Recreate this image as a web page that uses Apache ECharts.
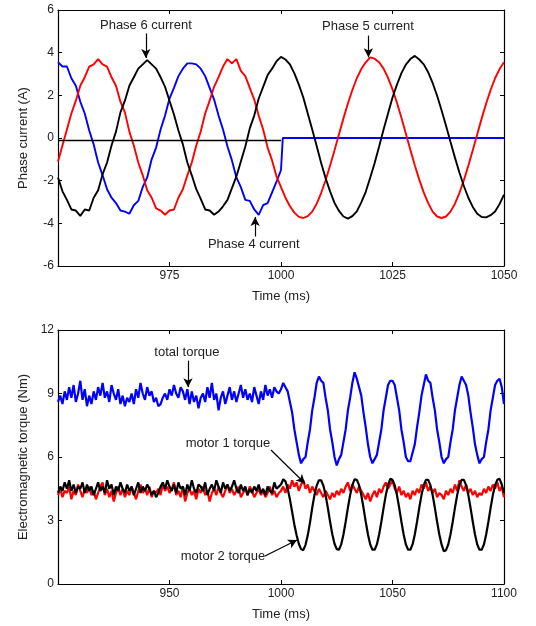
<!DOCTYPE html>
<html>
<head>
<meta charset="utf-8">
<script src="https://cdn.jsdelivr.net/npm/echarts@6/dist/echarts.min.js"></script>
<style>
html,body{margin:0;padding:0;background:#fff}
#main{width:536px;height:626px}
</style>
</head>
<body>
<div id="main"></div>
<script>
var FONT = 'Liberation Sans, Arial, sans-serif';
var TXT = '#222';

// sampling grid (1 ms)
var timeTop = [];
for (var t = 950; t <= 1050; t++) timeTop.push(t);
var timeBot = [];
for (var t2 = 900; t2 <= 1100; t2++) timeBot.push(t2);

// phase currents (A), 950..1050 ms
var phase6 = [
  -1.85,-2.5,-2.9,-3.35,-3.4,-3.65,-3.35,-3.4,-2.8,-2.45,
  -1.7,-1.15,-0.35,0.3,1.2,1.75,2.45,2.85,3.25,3.45,
  3.65,3.45,3.25,2.85,2.4,1.75,1.1,0.35,-0.3,-1.15,
  -1.75,-2.4,-2.85,-3.35,-3.4,-3.6,-3.45,-3.2,-2.9,-2.35,
  -1.8,-1.1,-0.4,0.45,1.05,1.85,2.4,2.95,3.25,3.6,
  3.8,3.68,3.45,3.03,2.5,1.9,1.15,0.4,-0.38,-1.17,
  -1.88,-2.5,-3.04,-3.42,-3.68,-3.78,-3.66,-3.44,-3.02,-2.52,
  -1.86,-1.17,-0.4,0.4,1.15,1.9,2.5,3.04,3.44,3.7,
  3.85,3.68,3.45,3.08,2.58,1.98,1.3,0.57,-0.18,-0.92,
  -1.62,-2.25,-2.8,-3.23,-3.55,-3.7,-3.72,-3.62,-3.45,-3.1,
  -2.65
];
var phase5 = [
  -1.1,-0.35,0.4,1.15,1.75,2.45,2.85,3.35,3.45,3.7,
  3.45,3.35,2.85,2.45,1.7,1.2,0.3,-0.35,-1.15,-1.75,
  -2.45,-2.8,-3.3,-3.4,-3.6,-3.4,-3.35,-2.8,-2.4,-1.75,
  -1.15,-0.35,0.3,1.15,1.75,2.4,2.85,3.35,3.7,3.5,
  3.7,3.15,2.9,2.35,1.8,1.05,0.4,-0.45,-1.05,-1.8,
  -2.3,-2.8,-3.2,-3.5,-3.7,-3.75,-3.66,-3.45,-3.08,-2.58,
  -1.98,-1.3,-0.57,0.18,0.92,1.62,2.25,2.8,3.23,3.55,
  3.78,3.72,3.55,3.25,2.82,2.28,1.65,0.95,0.2,-0.55,
  -1.28,-1.95,-2.55,-3.05,-3.45,-3.68,-3.75,-3.68,-3.45,-3.08,
  -2.58,-1.98,-1.3,-0.57,0.18,0.92,1.62,2.25,2.8,3.23,
  3.55
];
var phase4Time = timeTop.slice(0, 51).concat([1000.4, 1050]);
var phase4 = [
  3.55,3.35,3.35,2.8,2.45,1.7,1.15,0.35,-0.3,-1.15,
  -1.75,-2.4,-2.8,-3.05,-3.4,-3.45,-3.55,-3.15,-2.95,-2.3,
  -1.85,-1.0,-0.45,0.4,1.05,1.85,2.35,2.9,3.25,3.5,
  3.5,3.45,3.25,2.9,2.35,1.8,1.05,0.4,-0.4,-1.05,
  -1.85,-2.3,-2.9,-2.95,-3.35,-3.6,-3.15,-3.05,-2.55,-2.05,
  -1.5,0,0
];
var flatTime = [950, 1000];
var flatVal = [-0.12, -0.12];

// electromagnetic torque (Nm), 900..1100 ms
var totalTorque = [
  8.6,8.9,8.5,9.1,8.7,9.3,8.8,9.4,8.6,9.0,
  9.6,8.7,9.2,8.4,8.9,8.5,9.1,8.7,9.3,8.9,
  9.5,8.8,9.1,8.6,9.4,9.0,8.7,9.2,8.5,8.9,
  8.4,8.8,8.6,9.0,8.5,9.2,8.8,9.5,9.0,8.7,
  9.3,8.9,9.1,8.6,8.8,8.4,8.5,8.8,9.0,8.7,
  9.2,8.9,9.4,9.0,8.8,9.3,9.1,8.7,9.2,8.5,
  9.1,8.6,8.9,8.3,8.8,9.0,8.6,9.3,8.8,9.5,
  8.7,9.0,8.2,8.8,9.1,8.5,8.9,9.3,8.7,9.1,
  8.6,9.0,9.4,8.8,9.2,8.7,9.0,8.6,9.3,8.9,
  8.5,9.1,8.7,9.4,8.9,9.2,8.8,9.3,9.1,9.0,
  9.2,9.5,9.3,9.1,8.6,8.1,7.3,6.7,6.1,5.7,
  5.9,6.0,6.7,7.3,8.2,8.8,9.5,9.8,9.6,9.5,
  8.8,8.2,7.3,6.7,6.0,5.6,5.9,6.1,6.7,7.3,
  8.2,8.8,9.5,10.0,9.7,9.3,8.9,8.1,7.4,6.6,
  6.0,5.7,5.9,6.1,6.7,7.3,8.2,8.8,9.4,9.6,
  9.6,9.4,8.8,8.2,7.3,6.7,6.0,5.8,5.8,6.2,
  6.6,7.4,8.1,8.9,9.4,9.9,9.6,9.5,8.8,8.2,
  7.3,6.7,6.0,5.7,5.9,6.0,6.7,7.3,8.2,8.8,
  9.4,9.8,9.6,9.4,8.9,8.1,7.4,6.6,6.1,5.7,
  5.9,6.0,6.7,7.3,8.2,8.8,9.4,9.6,9.7,9.3,
  8.5
];
var motor1Torque = [
  4.2,4.5,4.1,4.4,4.3,4.6,4.0,4.4,4.2,4.7,
  4.4,4.1,4.5,4.3,4.6,4.2,4.4,4.0,4.3,4.6,
  4.8,4.2,4.5,4.1,4.4,3.9,4.3,4.6,4.2,4.5,
  4.1,4.4,4.2,4.6,4.3,4.0,4.4,4.7,4.3,4.5,
  4.2,4.6,4.1,4.4,4.3,4.5,4.2,4.7,4.4,4.6,
  4.3,4.5,4.8,4.2,4.4,4.1,4.6,3.9,4.3,4.5,
  4.2,4.4,4.0,4.5,4.3,4.6,4.2,4.4,3.9,4.3,
  4.5,4.2,4.6,4.3,4.1,4.4,4.7,4.3,4.5,4.2,
  4.4,4.6,4.1,4.3,4.5,4.2,4.6,4.4,4.1,4.3,
  4.5,4.2,4.4,4.1,4.3,4.6,4.2,4.4,4.1,4.3,
  4.4,4.6,4.3,4.7,4.5,4.9,4.6,4.8,4.4,4.7,
  4.9,4.5,4.7,4.3,4.6,4.4,4.2,4.5,4.3,4.1,
  4.4,4.2,4.0,4.3,4.1,4.4,4.2,4.5,4.3,4.6,
  4.8,4.4,4.7,4.5,4.3,4.6,4.4,4.2,4.0,4.3,
  3.9,4.2,4.4,4.1,4.5,4.3,4.6,4.8,4.5,4.7,
  4.9,4.5,4.3,4.6,4.2,4.4,4.1,4.3,4.0,4.4,
  4.2,4.5,4.3,4.7,4.5,4.8,4.4,4.6,4.3,4.5,
  4.1,4.3,4.2,4.0,4.4,4.2,4.5,4.3,4.7,4.4,
  4.9,4.6,4.4,4.7,4.3,4.5,4.2,4.4,4.1,4.3,
  4.2,4.5,4.3,4.6,4.4,4.7,4.5,4.8,4.4,4.6,
  4.1
];
var motor2Torque = [
  4.3,4.6,4.4,4.8,4.5,4.9,4.4,4.7,4.3,4.6,
  4.5,4.8,4.3,4.7,4.4,4.6,4.2,4.5,4.8,4.4,
  4.6,4.3,4.9,4.5,4.7,4.2,4.6,4.4,4.8,4.5,
  4.3,4.7,4.4,4.6,4.2,4.5,4.8,4.3,4.6,4.4,
  4.7,4.5,4.2,4.4,4.1,4.3,4.6,4.8,4.5,4.9,
  4.6,4.4,4.7,4.3,4.8,4.5,4.6,4.2,4.7,4.4,
  4.9,4.5,4.3,4.7,4.6,4.4,4.8,4.2,4.5,4.7,
  4.4,4.9,4.6,4.3,4.8,4.5,4.7,4.4,4.6,4.9,
  4.5,4.3,4.7,4.4,4.6,4.2,4.5,4.3,4.6,4.4,
  4.7,4.3,4.5,4.2,4.6,4.4,4.3,4.8,4.5,4.6,
  4.7,4.95,4.85,4.5,4.0,3.4,2.8,2.3,1.9,1.65,
  1.6,1.85,2.3,2.9,3.6,4.2,4.65,4.9,4.9,4.65,
  4.2,3.6,2.95,2.35,1.9,1.65,1.62,1.87,2.34,2.94,
  3.6,4.2,4.67,4.95,4.92,4.67,4.2,3.6,2.94,2.34,
  1.87,1.62,1.62,1.87,2.34,2.94,3.6,4.2,4.67,4.97,
  4.92,4.67,4.2,3.6,2.94,2.34,1.87,1.62,1.62,1.87,
  2.34,2.94,3.6,4.2,4.67,4.92,4.92,4.67,4.2,3.6,
  2.94,2.34,1.87,1.55,1.6,1.87,2.34,2.94,3.6,4.2,
  4.67,4.92,4.92,4.67,4.2,3.6,2.94,2.34,1.87,1.62,
  1.62,1.87,2.34,2.94,3.6,4.2,4.67,4.92,4.97,4.7,
  4.3
];

// annotations: [grid, text, textX, textY, arrowX1, arrowY1, arrowX2, arrowY2]
var notes = [
  [0, 'Phase 6 current', 969.7, 5.3, 969.7, 4.9, 969.7, 3.75],
  [0, 'Phase 5 current', 1019.5, 5.25, 1019.6, 4.8, 1019.6, 3.78],
  [0, 'Phase 4 current', 993.9, -5.0, 994.2, -4.62, 994.2, -3.7],
  [1, 'total torque', 957.8, 10.96, 958.3, 10.55, 958.3, 9.3],
  [1, 'motor 1 torque', 976.2, 6.66, 995.5, 6.33, 1010.8, 4.75],
  [1, 'motor 2 torque', 974.0, 1.32, 992.8, 1.32, 1007.2, 2.08]
];

function pairs(ts, vs) {
  var out = [];
  for (var i = 0; i < vs.length; i++) out.push([ts[i], vs[i]]);
  return out;
}

function arrows(g) {
  var d = [];
  notes.forEach(function (n) {
    if (n[0] === g) d.push([{ coord: [n[4], n[5]] }, { coord: [n[6], n[7]] }]);
  });
  return d;
}

function xAx(grid, min, max, step, bottom) {
  return {
    gridIndex: grid, type: 'value', min: min, max: max, interval: step,
    position: bottom ? 'bottom' : 'top',
    axisLine: { onZero: false, lineStyle: { color: '#000', width: 1.2 } },
    axisTick: { inside: true, length: 4, lineStyle: { color: '#000', width: 1 } },
    axisLabel: {
      show: bottom, showMinLabel: false, margin: 4, color: TXT, fontSize: 12, fontFamily: FONT,
      formatter: function (v) { return String(v); }
    },
    splitLine: { show: false },
    name: bottom ? 'Time (ms)' : '', nameLocation: 'middle', nameGap: 24,
    nameTextStyle: { color: TXT, fontSize: 13, fontFamily: FONT }
  };
}
function yAx(grid, min, max, step, left, title) {
  return {
    gridIndex: grid, type: 'value', min: min, max: max, interval: step,
    position: left ? 'left' : 'right',
    axisLine: { show: true, onZero: false, lineStyle: { color: '#000', width: 1.2 } },
    axisTick: { show: true, inside: true, length: 4, lineStyle: { color: '#000', width: 1 } },
    axisLabel: { show: left, margin: 4, color: TXT, fontSize: 12, fontFamily: FONT },
    splitLine: { show: false },
    name: left ? title : '', nameLocation: 'middle', nameGap: 28,
    nameTextStyle: { color: TXT, fontSize: 13, fontFamily: FONT }
  };
}
function line(xi, yi, data, color, w) {
  return {
    type: 'line', xAxisIndex: xi, yAxisIndex: yi, data: data, showSymbol: false,
    symbol: 'none', lineStyle: { color: color, width: w }, z: 3
  };
}
function arrowSeries(xi, yi, g) {
  return {
    type: 'line', xAxisIndex: xi, yAxisIndex: yi, data: [], z: 5,
    markLine: {
      silent: true, animation: false, symbol: ['none', 'arrow'], symbolSize: [7, 9],
      label: { show: false }, lineStyle: { color: '#000', width: 1.2, type: 'solid' },
      data: arrows(g)
    }
  };
}

var chart = echarts.init(document.getElementById('main'));
chart.setOption({
  animation: false,
  backgroundColor: '#fff',
  grid: [
    { left: 58, right: 32, top: 10, height: 256 },
    { left: 58, right: 32, top: 330, height: 254 }
  ],
  xAxis: [
    xAx(0, 950, 1050, 25, true), xAx(0, 950, 1050, 25, false),
    xAx(1, 900, 1100, 50, true), xAx(1, 900, 1100, 50, false)
  ],
  yAxis: [
    yAx(0, -6, 6, 2, true, 'Phase current (A)'), yAx(0, -6, 6, 2, false),
    yAx(1, 0, 12, 3, true, 'Electromagnetic torque (Nm)'), yAx(1, 0, 12, 3, false)
  ],
  series: [
    line(0, 0, pairs(phase4Time, phase4), '#0000ff', 1.9),
    line(0, 0, pairs(timeTop, phase5), '#ff0000', 1.9),
    line(0, 0, pairs(timeTop, phase6), '#000000', 1.9),
    line(0, 0, pairs(flatTime, flatVal), '#000000', 1.6),
    arrowSeries(0, 0, 0),
    line(2, 2, pairs(timeBot, totalTorque), '#0000ff', 2.2),
    line(2, 2, pairs(timeBot, motor1Torque), '#ff0000', 2.2),
    line(2, 2, pairs(timeBot, motor2Torque), '#000000', 2.2),
    arrowSeries(2, 2, 1)
  ]
});

// annotation texts placed through the axes
var texts = notes.map(function (n) {
  var p = chart.convertToPixel({ gridIndex: n[0] }, [n[2], n[3]]);
  return {
    type: 'text', x: p[0], y: p[1], z: 10,
    style: { text: n[1], align: 'center', verticalAlign: 'middle', fill: TXT, font: '13px ' + FONT }
  };
});
chart.setOption({ graphic: texts });
</script>
</body>
</html>
